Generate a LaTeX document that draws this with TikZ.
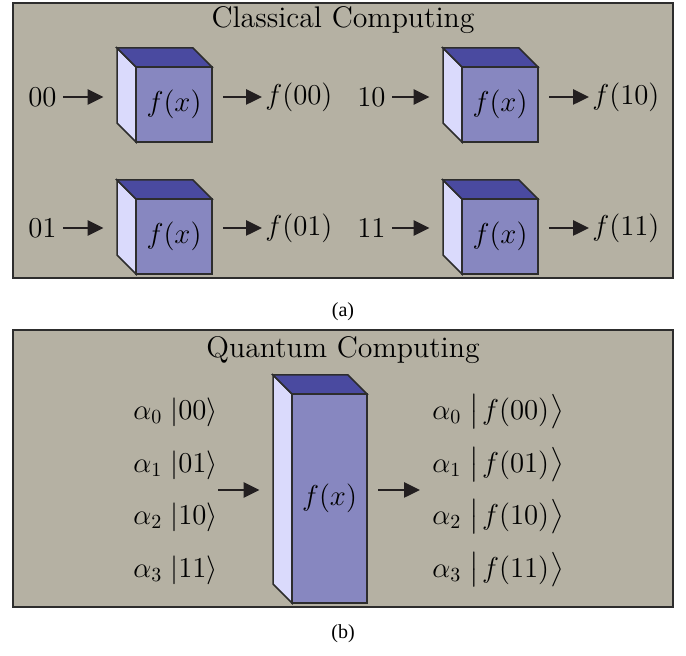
\documentclass[tikz,border=0pt]{standalone}
\usepackage{amsmath}
\usepackage{fontspec}
\usetikzlibrary{arrows.meta,fit}
\newfontfamily\capfont{Liberation Serif}
\definecolor{bg}{RGB}{181,177,163}
\definecolor{edge}{RGB}{45,45,45}
\definecolor{frontc}{RGB}{135,135,192}
\definecolor{topc}{RGB}{74,74,160}
\definecolor{leftc}{RGB}{218,218,252}
\definecolor{ink}{RGB}{35,31,32}
\tikzset{
  panel/.style={fill=bg,draw=edge,line width=1pt},
  face/.style={draw=edge,line width=0.75pt,line join=miter},
  txt/.style={inner sep=0pt,font=\fontsize{14.9}{18}\selectfont},
  arr/.style={draw=ink,line width=1.3pt,-{Triangle[length=8pt,width=7.5pt]}},
  captxt/.style={inner sep=0pt,font=\capfont\fontsize{10}{12}\selectfont}
}
% name, x, y (back top-left), front width, front height, label name
\newcommand\mycuboid[6]{%
  \fill[leftc] (#2,#3) -- ++(19,19) -- ++(0,#5) -- ++(-19,-19) -- cycle;
  \draw[face] (#2,#3) -- ++(19,19) -- ++(0,#5) -- ++(-19,-19) -- cycle;
  \filldraw[face,fill=topc] (#2,#3) -- ++(#4,0) -- ++(19,19) -- ++(-#4,0) -- cycle;
  \filldraw[face,fill=frontc] ({#2+19},{#3+19}) rectangle ++(#4,#5);
  \node[txt] (#6) at ({#2+19+#4/2},{#3+19+#5/2}) {$f(x)$};
  \node[fit={(#2,#3) ({#2+#4+19},{#3+#5+19})},inner sep=0pt] (#1) {};
}
\begin{document}
\begin{tikzpicture}[x=0.5pt,y=-0.5pt]
\useasboundingbox (0,0) rectangle (686,656);
% panel (a)
\draw[panel] (13,3) rectangle (673,278);
\node[txt] (tA) at (343,20) {Classical Computing};
\mycuboid{c1}{117}{48}{76}{75}{fx1}
\mycuboid{c2}{443}{48}{76}{75}{fx2}
\mycuboid{c3}{117}{180}{76}{75}{fx3}
\mycuboid{c4}{443}{180}{76}{75}{fx4}
\node[txt,anchor=east] (i1) at (57,97) {$00$};
\node[txt,anchor=east] (i2) at (386,97) {$10$};
\node[txt,anchor=east] (i3) at (57,228) {$01$};
\node[txt,anchor=east] (i4) at (386,228) {$11$};
\node[txt,anchor=west] (o1) at (265,97) {$f(00)$};
\node[txt,anchor=west] (o2) at (592,97) {$f(10)$};
\node[txt,anchor=west] (o3) at (265,228) {$f(01)$};
\node[txt,anchor=west] (o4) at (592,228) {$f(11)$};
\foreach \i in {1,2,3,4}{
  \draw[arr,shorten <=3pt,shorten >=6.5pt] (i\i.east) -- (i\i.east -| c\i.west);
  \draw[arr,shorten <=5.5pt,shorten >=1.5pt] (o\i.west -| c\i.east) -- (o\i.west);
}
\node[captxt] (la) at (343,312) {(a)};
% panel (b)
\draw[panel] (13,330) rectangle (673,607);
\node[txt] (tB) at (343,350) {Quantum Computing};
\mycuboid{q}{273}{375}{75}{209}{fxq}
\node[txt,anchor=west] (l0) at (133,412) {$\alpha_0\;\lvert 00\rangle$};
\node[txt,anchor=west] (l1) at (133,465) {$\alpha_1\;\lvert 01\rangle$};
\node[txt,anchor=west] (l2) at (133,517) {$\alpha_2\;\lvert 10\rangle$};
\node[txt,anchor=west] (l3) at (133,570) {$\alpha_3\;\lvert 11\rangle$};
\node[txt,anchor=west] (r0) at (432,412) {$\alpha_0\;\bigl\lvert\mkern2mu f(00)\mkern1mu\bigr\rangle$};
\node[txt,anchor=west] (r1) at (432,465) {$\alpha_1\;\bigl\lvert\mkern2mu f(01)\mkern1mu\bigr\rangle$};
\node[txt,anchor=west] (r2) at (432,517) {$\alpha_2\;\bigl\lvert\mkern2mu f(10)\mkern1mu\bigr\rangle$};
\node[txt,anchor=west] (r3) at (432,570) {$\alpha_3\;\bigl\lvert\mkern2mu f(11)\mkern1mu\bigr\rangle$};
\coordinate (qin) at (218,490);
\coordinate (qout) at (420,490);
\draw[arr,shorten >=6.5pt] (qin) -- (qin -| q.west);
\draw[arr,shorten <=5.5pt] (qout -| q.east) -- (qout);
\node[captxt] (lb) at (343,634) {(b)};
\end{tikzpicture}
\end{document}
